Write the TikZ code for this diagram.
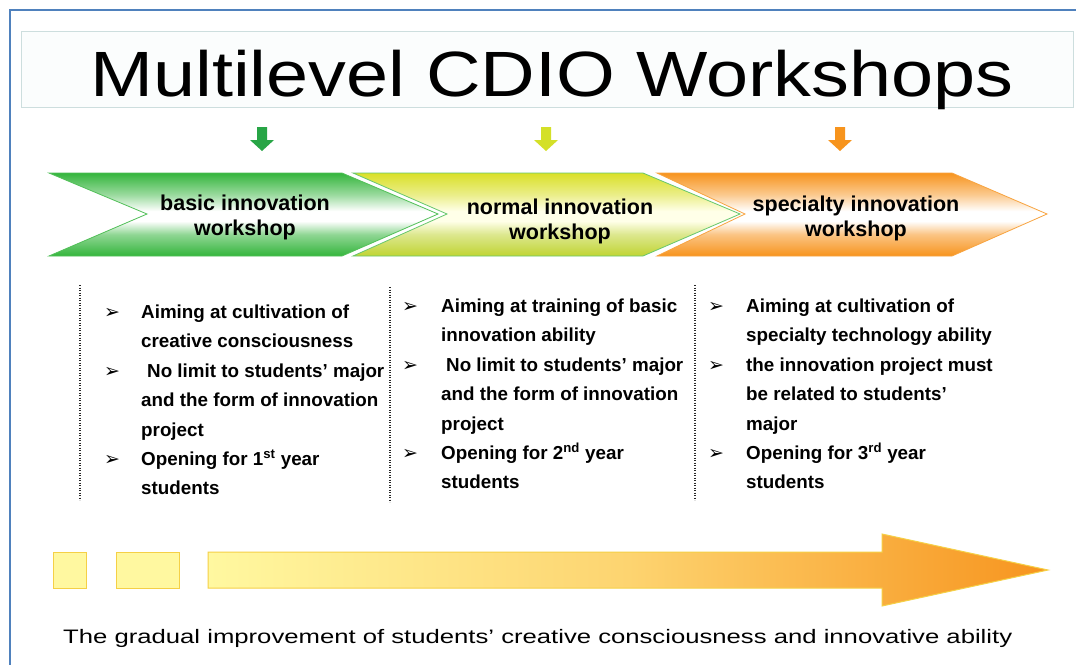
\documentclass[tikz,border=0pt]{standalone}
\usepackage{fontspec}
\usepackage{graphicx}
\setmainfont{Liberation Sans}
\newfontfamily\dejavu{DejaVu Sans}
\definecolor{frameblue}{RGB}{79,129,189}
\definecolor{boxline}{RGB}{205,222,222}
\definecolor{boxfill}{RGB}{251,253,253}
\definecolor{gA}{RGB}{52,181,60}
\definecolor{yA}{RGB}{218,224,40}
\definecolor{yB}{RGB}{192,212,50}
\definecolor{yMid}{RGB}{255,255,232}
\definecolor{oA}{RGB}{247,148,30}
\definecolor{arrG}{RGB}{40,165,70}
\definecolor{arrY}{RGB}{212,224,40}
\definecolor{arrO}{RGB}{247,148,29}
\definecolor{paleY}{RGB}{255,248,160}
\definecolor{midO}{RGB}{253,212,112}
\definecolor{rectLine}{RGB}{245,208,70}
\pgfdeclareverticalshading{gshade}{100bp}{color(0bp)=(gA); color(25bp)=(gA); color(38bp)=(gA!55); color(46bp)=(white); color(52bp)=(white); color(62bp)=(gA!50); color(75bp)=(gA); color(100bp)=(gA)}
\pgfdeclareverticalshading{yshade}{100bp}{color(0bp)=(yB); color(25bp)=(yB); color(38bp)=(yB!55); color(46bp)=(yMid); color(52bp)=(yMid); color(62bp)=(yA!55); color(75bp)=(yA); color(100bp)=(yA)}
\pgfdeclareverticalshading{oshade}{100bp}{color(0bp)=(oA); color(25bp)=(oA); color(38bp)=(oA!55); color(46bp)=(white); color(52bp)=(white); color(62bp)=(oA!50); color(75bp)=(oA); color(100bp)=(oA)}
\newcommand{\bul}{{\dejavu\fontsize{19}{19}\selectfont ➢}}
\tikzset{
  downarr/.pic={\fill (-5,0) -- (5,0) -- (5,13) -- (12,13) -- (0,24) -- (-12,13) -- (-5,13) -- cycle;},
  chevtxt/.style={font=\fontsize{21.5}{25}\selectfont\bfseries, align=center, inner sep=0},
  txt/.style={font=\fontsize{18.8}{22}\selectfont\bfseries, anchor=base west, inner sep=0},
  bulnode/.style={anchor=base west, inner sep=0},
  dotline/.style={line width=1.6, dash pattern=on 1.4pt off 1.1pt, black!85},
  chev/.style={line width=0.8}
}
\begin{document}
\begin{tikzpicture}[x=1pt,y=-1pt]
\useasboundingbox (0,0) rectangle (1076,664);
\fill[white] (0,0) rectangle (1076,664);
\begin{scope}
\clip (0,0) rectangle (1076,664);
\draw[frameblue, line width=1.8] (10,700) -- (10,10) -- (1100,10);
\end{scope}
% title
\draw[boxline, fill=boxfill, line width=1] (21,31) rectangle (1073,107);
\node[anchor=base west, inner sep=0] (title) at (90,96)
  {\resizebox{923pt}{\height}{\fontsize{64}{64}\selectfont Multilevel CDIO Workshops}};
% small arrows
\pic[arrG] at (262,127) {downarr};
\pic[arrY] at (546,127) {downarr};
\pic[arrO] at (840,127) {downarr};
% chevrons
\path[chev, draw=gA!85, shading=gshade]
  (49,173) -- (342,173) -- (438,214) -- (342,256) -- (49,256) -- (147,214) -- cycle;
\path[chev, draw=gA!75, shading=yshade]
  (353,173) -- (643,173) -- (740,214) -- (643,256) -- (353,256) -- (447,214) -- cycle;
\path[chev, draw=oA!85, shading=oshade]
  (657,173) -- (952,173) -- (1047,214) -- (952,256) -- (657,256) -- (745,214) -- cycle;
\node[chevtxt] (w1) at (245,217) {basic innovation\\workshop};
\node[chevtxt] (w2) at (560,221) {normal innovation\\workshop};
\node[chevtxt] (w3) at (856,218) {specialty innovation\\workshop};
% dotted separators
\draw[dotline] (80,285) -- (80,500);
\draw[dotline] (390,287) -- (390,502);
\draw[dotline] (695,285) -- (695,500);
% column 1
\node[bulnode] (b11) at (104,318) {\bul};
\node[txt] (c11) at (141,318) {Aiming at cultivation of};
\node[txt] (c12) at (141,347) {creative consciousness};
\node[bulnode] (b12) at (104,377) {\bul};
\node[txt] (c13) at (147,377) {No limit to students’ major};
\node[txt] (c14) at (141,406) {and the form of innovation};
\node[txt] (c15) at (141,436) {project};
\node[bulnode] (b13) at (104,465) {\bul};
\node[txt] (c16) at (141,465) {Opening for 1\textsuperscript{st} year};
\node[txt] (c17) at (141,494) {students};
% column 2
\node[bulnode] (b21) at (402,312) {\bul};
\node[txt] (c21) at (441,312) {Aiming at training of basic};
\node[txt] (c22) at (441,341) {innovation ability};
\node[bulnode] (b22) at (402,371) {\bul};
\node[txt] (c23) at (446,371) {No limit to students’ major};
\node[txt] (c24) at (441,400) {and the form of innovation};
\node[txt] (c25) at (441,430) {project};
\node[bulnode] (b23) at (402,459) {\bul};
\node[txt] (c26) at (441,459) {Opening for 2\textsuperscript{nd} year};
\node[txt] (c27) at (441,488) {students};
% column 3
\node[bulnode] (b31) at (708,312) {\bul};
\node[txt] (c31) at (746,312) {Aiming at cultivation of};
\node[txt] (c32) at (746,341) {specialty technology ability};
\node[bulnode] (b32) at (708,371) {\bul};
\node[txt] (c33) at (746,371) {the innovation project must};
\node[txt] (c34) at (746,400) {be related to students’};
\node[txt] (c35) at (746,430) {major};
\node[bulnode] (b33) at (708,459) {\bul};
\node[txt] (c36) at (746,459) {Opening for 3\textsuperscript{rd} year};
\node[txt] (c37) at (746,488) {students};
% bottom progress arrow
\path[draw=rectLine, line width=1, fill=paleY] (53,552) rectangle (86,588);
\path[draw=rectLine, line width=1, fill=paleY] (116,552) rectangle (179,588);
\path[draw=rectLine, line width=1, left color=paleY, right color=oA, middle color=midO]
  (208,552) -- (882,552) -- (882,534) -- (1048,570) -- (882,606) -- (882,588) -- (208,588) -- cycle;
\node[anchor=base west, inner sep=0] (caption) at (63,643)
  {\resizebox{949pt}{\height}{\fontsize{19.5}{20}\selectfont The gradual improvement of students’ creative consciousness and innovative ability}};
\end{tikzpicture}
\end{document}
